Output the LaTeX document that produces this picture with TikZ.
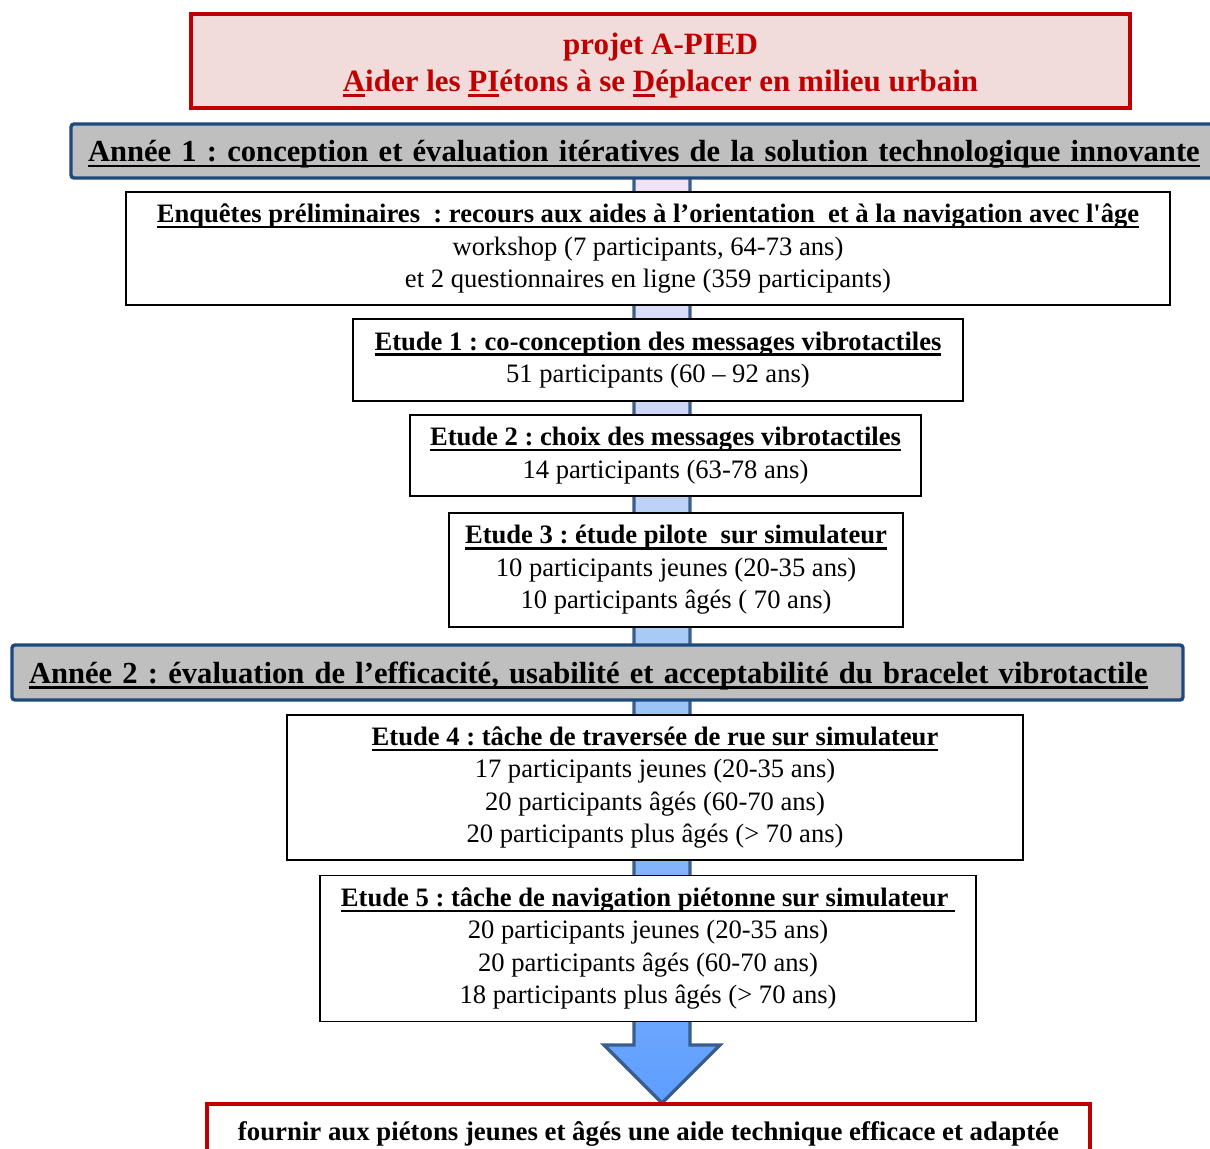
\documentclass[tikz,border=0pt]{standalone}
\usepackage{fontspec}
\setmainfont{Liberation Serif}
\usepackage{tikz}
\definecolor{rouge}{HTML}{C00000}
\definecolor{rose}{HTML}{F2DCDB}
\definecolor{bleu}{HTML}{1F497D}
\definecolor{gris}{HTML}{BFBFBF}
\definecolor{fbord}{HTML}{3A5E8C}
\definecolor{fhaut}{HTML}{F2E4F6}
\definecolor{fmil}{HTML}{A8CBF6}
\definecolor{fbas}{HTML}{5E9EFF}
\frenchspacing
\newcommand{\souligne}[1]{\setbox0\hbox{#1}\rlap{\rule[-2.8pt]{\wd0}{1.2pt}}\box0}
\newcommand{\entete}[1]{{\bfseries\souligne{#1}}}
\newcommand{\bas}[1]{\raisebox{-1.6pt}[\height][\depth]{#1}}
\tikzset{
  titre/.style={draw=rouge, fill=rose, line width=2pt, text=rouge, align=center,
    font=\bfseries\fontsize{15.5}{18.5}\selectfont, inner sep=0pt},
  annee/.style={draw=bleu, fill=gris, line width=1.7pt, rounded corners=1.5pt, align=left,
    font=\bfseries\fontsize{15.3}{18}\selectfont, inner sep=0pt, inner xsep=8.5pt},
  etude/.style={draw=black, fill=white, line width=0.7pt, align=center,
    font=\fontsize{13.3}{16.2}\selectfont, inner sep=0pt},
  fin/.style={draw=rouge, fill=white, line width=2pt, align=center,
    font=\bfseries\fontsize{13.4}{16}\selectfont, inner sep=0pt},
  fleche/.style={draw=fbord, line width=1.7pt, line join=miter,
    top color=fhaut, bottom color=fbas, middle color=fmil},
}

\begin{document}
\begin{tikzpicture}[x=0.5pt, y=-0.5pt]
  \useasboundingbox (0,0) rectangle (1210,1148);

  % grande fleche de fond
  \draw[fleche] (634,170) -- (634,1045) -- (604,1045) -- (662,1103)
    -- (720,1045) -- (690,1045) -- (690,170) -- cycle;

  \node[titre, minimum width=469.5pt, minimum height=47pt] (projet) at (660.5,61)
    {\rule{0pt}{15pt}projet A-PIED\\ \souligne{A}ider les \souligne{PI}étons à se \souligne{D}éplacer en milieu urbain};

  \node[annee, minimum height=27pt, text width=555.5pt] (an1) at (643.5,151)
    {\bas{\mbox{\souligne{Année 1 : conception et évaluation itératives de la solution technologique innovante}}}};

  \node[etude, minimum width=522pt, minimum height=56.5pt] (enq) at (648,248.5)
    {\entete{Enquêtes préliminaires \ : recours aux aides à l’orientation \ et à la navigation avec l\textquotesingle âge}\\
     workshop (7 participants, 64-73 ans)\\
     et 2 questionnaires en ligne (359 participants)};

  \node[etude, minimum width=305pt, minimum height=41pt] (e1) at (658,360)
    {\entete{Etude 1 : co-conception des messages vibrotactiles}\\
     51 participants (60 – 92 ans)};

  \node[etude, minimum width=255.5pt, minimum height=40.5pt] (e2) at (665.5,455.5)
    {\entete{Etude 2 : choix des messages vibrotactiles}\\
     14 participants (63-78 ans)};

  \node[etude, minimum width=227pt, minimum height=57pt] (e3) at (676,570)
    {\entete{Etude 3 : étude pilote \ sur simulateur}\\
     10 participants jeunes (20-35 ans)\\
     10 participants âgés ( 70 ans)};

  \node[annee, minimum height=27.5pt, text width=568.5pt] (an2) at (597.5,672.5)
    {\bas{\mbox{\souligne{Année 2 : évaluation de l’efficacité, usabilité et acceptabilité du bracelet vibrotactile}}}};

  \node[etude, minimum width=368pt, minimum height=72.5pt] (e4) at (655,787.5)
    {\entete{Etude 4 : tâche de traversée de rue sur simulateur}\\
     17 participants jeunes (20-35 ans)\\
     20 participants âgés (60-70 ans)\\
     20 participants plus âgés (> 70 ans)};

  \node[etude, minimum width=328pt, minimum height=73pt] (e5) at (648,948.5)
    {\entete{Etude 5 : tâche de navigation piétonne sur simulateur\ }\\
     20 participants jeunes (20-35 ans)\\
     20 participants âgés (60-70 ans)\\
     18 participants plus âgés (> 70 ans)};

  \node[fin, minimum width=441.5pt, minimum height=27pt] (but) at (648.5,1131)
    {\bas{fournir aux piétons jeunes et âgés une aide technique efficace et adaptée}};
\end{tikzpicture}
\end{document}
